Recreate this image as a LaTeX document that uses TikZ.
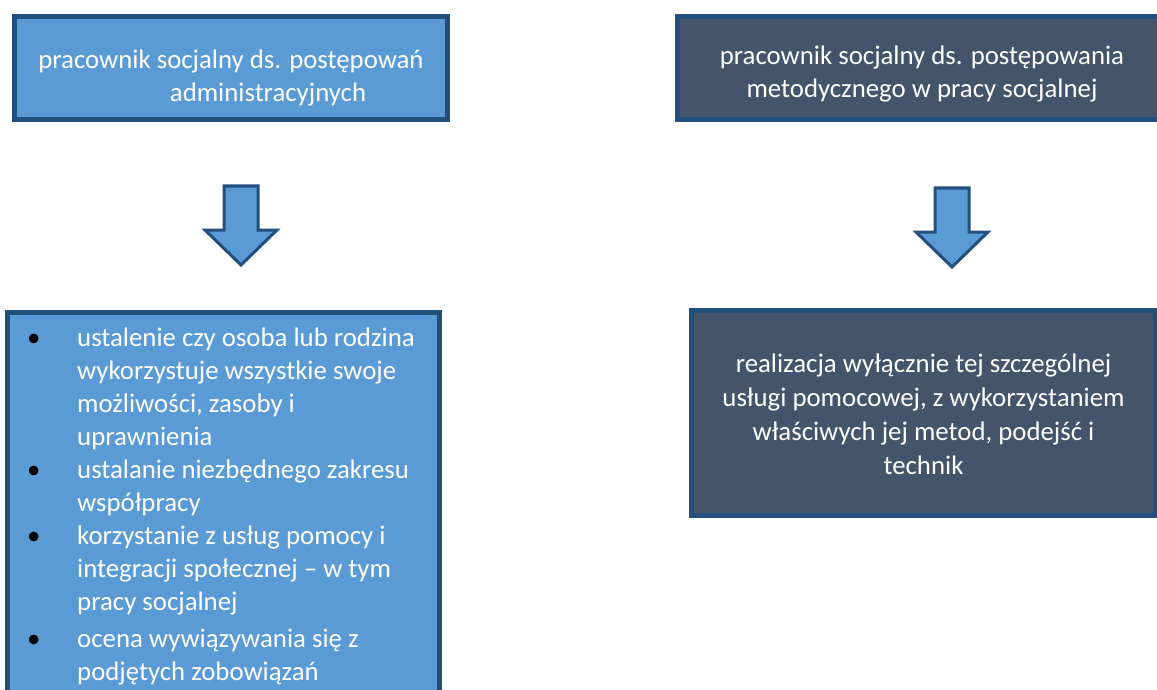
\documentclass[tikz,border=0pt]{standalone}
\usepackage{fontspec}
\setmainfont{Carlito}
\usetikzlibrary{positioning}
\definecolor{adminFill}{HTML}{5B9BD5}
\definecolor{methodFill}{HTML}{44546A}
\definecolor{frameBlue}{HTML}{234F7D}
\newcommand{\taskbullet}{\makebox[50pt][l]{\textcolor{black}{\textbullet}}}

\begin{document}
\begin{tikzpicture}[
  x=1pt, y=-1pt,
  font=\fontsize{26.8}{33}\selectfont,
  panel/.style={draw=frameBlue, line width=5pt, inner sep=0pt},
  adminbox/.style={panel, fill=adminFill},
  methodbox/.style={panel, fill=methodFill},
  boxtext/.style={text=white, align=center, inner sep=0pt},
  downarrow/.pic={
    \draw[fill=adminFill, draw=frameBlue, line width=3pt, line join=miter]
      (-17,0) -- (17,0) -- (17,44) -- (36,44) -- (0,79) -- (-36,44) -- (-17,44) -- cycle;
  },
]
\clip (0,0) rectangle (1157,690);

% Top row: the two kinds of social worker
\node[adminbox, minimum width=433pt, minimum height=103pt] (admin) at (231,68) {};
\node[boxtext] (admintext) at ([yshift=-10pt]admin.center) {
  pracownik socjalny ds. postępowań\\
  \hspace*{74pt}administracyjnych
};
\node[methodbox, minimum width=489pt, minimum height=103pt] (method) at (922,68) {};
\node[boxtext] (methodtext) at ([yshift=-6pt]method.center) {
  pracownik socjalny ds. postępowania\\
  metodycznego w pracy socjalnej
};

% Block arrows
\pic (adminarrow) at (241,186) {downarrow};
\pic (methodarrow) at (952,188) {downarrow};

% Bottom left: tasks of the administrative worker
\node[adminbox, minimum width=432pt, minimum height=420pt, anchor=north] (tasks) at (223.5,309.5) {};
\node[text=white, anchor=north west, inner sep=0pt] (tasklist) at (27,323) {%
  \begin{tabular}{@{}l@{}l@{}}
  \taskbullet & ustalenie czy osoba lub rodzina\\
              & wykorzystuje wszystkie swoje\\
              & możliwości, zasoby i\\
              & uprawnienia\\
  \taskbullet & ustalanie niezbędnego zakresu\\
              & współpracy\\
  \taskbullet & korzystanie z usług pomocy i\\
              & integracji społecznej – w tym\\
              & pracy socjalnej\\[4pt]
  \taskbullet & ocena wywiązywania się z\\
              & podjętych zobowiązań
  \end{tabular}};

% Bottom right: the methodical worker's task
\node[methodbox, minimum width=464pt, minimum height=205pt] (service) at (923.5,413) {};
\node[boxtext, font=\fontsize{26.8}{34}\selectfont] (servicetext) at ([yshift=-1pt]service.center) {
  realizacja wyłącznie tej szczególnej\\
  usługi pomocowej, z wykorzystaniem\\
  właściwych jej metod, podejść i\\
  technik
};

\end{tikzpicture}
\end{document}
